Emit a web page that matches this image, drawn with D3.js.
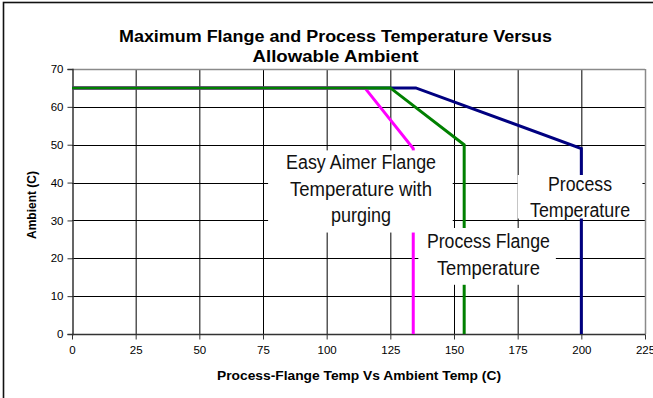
<!DOCTYPE html>
<html><head><meta charset="utf-8">
<script src="https://cdn.jsdelivr.net/npm/d3@7"></script>
<style>
html,body{margin:0;padding:0;background:#fff;overflow:hidden;}
svg{display:block;}
</style></head>
<body><svg id="c" width="653" height="398"></svg>
<script>
// ---- data ----
const titleLines = ["Maximum Flange and Process Temperature Versus", "Allowable Ambient"];
const xAxisTitle = "Process-Flange Temp Vs Ambient Temp (C)";
const yAxisTitle = "Ambient (C)";
const xTicks = [0, 25, 50, 75, 100, 125, 150, 175, 200, 225];
const yTicks = [0, 10, 20, 30, 40, 50, 60, 70];

const processX = [0, 135, 200, 200];
const processY = [65, 65, 49, 0];
const flangeX  = [0, 125, 154, 154];
const flangeY  = [65, 65, 50, 0];
const purgeX   = [0, 115, 134, 134];
const purgeY   = [65, 65, 49, 0];

const purgeLabel   = ["Easy Aimer Flange", "Temperature with", "purging"];
const flangeLabel  = ["Process Flange", "Temperature"];
const processLabel = ["Process", "Temperature"];

// ---- layout ----
const svg = d3.select("#c");
const x = d3.scaleLinear().domain([0, 225]).range([72, 645]);
const y = d3.scaleLinear().domain([0, 70]).range([334, 69]);
const sans = "'Liberation Sans', Arial, sans-serif";

// outer chart border
svg.append("rect").attr("x", 3.5).attr("y", 2.5).attr("width", 720).attr("height", 500)
  .attr("fill", "none").attr("stroke", "#111").attr("stroke-width", 1.6);

// title
const titleW = [433, 166];
svg.append("text").attr("text-anchor", "middle")
  .attr("font-family", sans).attr("font-weight", "bold").attr("font-size", 16.8)
  .selectAll("tspan").data(titleLines).join("tspan")
  .attr("x", 335.5).attr("y", (d, i) => 42 + i * 20)
  .attr("textLength", (d, i) => titleW[i]).attr("lengthAdjust", "spacingAndGlyphs")
  .text(d => d);

// gridlines
const g = svg.append("g");
g.selectAll("line.vg").data(xTicks.filter(d => d > 0 && d < 225)).join("line")
  .attr("x1", d => x(d) + 0.5).attr("x2", d => x(d) + 0.5)
  .attr("y1", y(70)).attr("y2", y(0)).attr("stroke", "#000").attr("stroke-width", 1);
g.selectAll("line.hg").data(yTicks.filter(d => d > 0 && d < 70)).join("line")
  .attr("x1", x(0)).attr("x2", x(225))
  .attr("y1", d => Math.round(y(d)) + 0.5).attr("y2", d => Math.round(y(d)) + 0.5)
  .attr("stroke", "#000").attr("stroke-width", 1);
// plot border top/right gray
g.append("line").attr("x1", x(0)).attr("x2", x(225)).attr("y1", Math.round(y(70)) + 0.5).attr("y2", Math.round(y(70)) + 0.5)
  .attr("stroke", "#8a8a8a").attr("stroke-width", 1.5);
g.append("line").attr("x1", x(225) + 0.5).attr("x2", x(225) + 0.5).attr("y1", y(70)).attr("y2", y(0))
  .attr("stroke", "#8a8a8a").attr("stroke-width", 1.5);

// axes
const xAxis = d3.axisBottom(x).tickValues(xTicks).tickSize(5).tickPadding(6);
const yAxis = d3.axisLeft(y).tickValues(yTicks).tickSize(5).tickPadding(4);
const gx = svg.append("g").attr("transform", `translate(0,${Math.round(y(0)) + 0.5})`).call(xAxis);
const gy = svg.append("g").attr("transform", `translate(${x(0) + 0.5},0)`).call(yAxis);
[gx, gy].forEach(a => {
  a.select(".domain").attr("stroke", "#333").attr("stroke-width", 1.5);
  a.selectAll(".tick line").attr("stroke", "#333");
  a.selectAll(".tick text").attr("font-family", sans).attr("font-size", 11.5).attr("fill", "#000");
});
gx.select(".domain").attr("d", `M${x(0)},0H${x(225) + 0.5}`);

// series
const line = d3.line().x(d => x(d[0])).y(d => y(d[1]));
const series = [
  { xs: processX, ys: processY, color: "#000080" },
  { xs: purgeX,   ys: purgeY,   color: "#ff00ff" },
  { xs: flangeX,  ys: flangeY,  color: "#008000" }
];
svg.selectAll("path.s").data(series).join("path")
  .attr("d", s => line(s.xs.map((v, i) => [v, s.ys[i]])))
  .attr("fill", "none").attr("stroke", s => s.color).attr("stroke-width", 3)
  .attr("stroke-linejoin", "miter");

// label text boxes (condensed look via textLength)
const labels = [
  { lines: purgeLabel,   widths: [150, 142, 60], box: [77, 48.5, 149.5, 26.8], cx: 113.5, base: 169 },
  { lines: flangeLabel,  widths: [123, 103],     box: [136, 28, 190, 13],     cx: 163.5, base: 248 },
  { lines: processLabel, widths: [64, 100],      box: [175, 42, 224, 30.5],   cx: 199.5, base: 190.5 }
];
labels.forEach(l => {
  svg.append("rect")
    .attr("x", x(l.box[0])).attr("y", y(l.box[1]))
    .attr("width", x(l.box[2]) - x(l.box[0])).attr("height", y(l.box[3]) - y(l.box[1]))
    .attr("fill", "#fff");
  svg.append("text").attr("text-anchor", "middle")
    .attr("font-family", sans).attr("font-size", 20).attr("fill", "#111")
    .selectAll("tspan").data(l.lines).join("tspan")
    .attr("x", x(l.cx)).attr("y", (d, i) => l.base + i * 26.5)
    .attr("textLength", (d, i) => l.widths[i]).attr("lengthAdjust", "spacingAndGlyphs")
    .text(d => d);
});

// axis titles
svg.append("text").attr("x", 359).attr("y", 380).attr("text-anchor", "middle")
  .attr("font-family", sans).attr("font-weight", "bold").attr("font-size", 12.5)
  .attr("textLength", 284).attr("lengthAdjust", "spacingAndGlyphs").text(xAxisTitle);
svg.append("text").attr("transform", "translate(36,205) rotate(-90)").attr("text-anchor", "middle")
  .attr("font-family", sans).attr("font-weight", "bold").attr("font-size", 12.5)
  .attr("textLength", 68).attr("lengthAdjust", "spacingAndGlyphs").text(yAxisTitle);
</script></body></html>
